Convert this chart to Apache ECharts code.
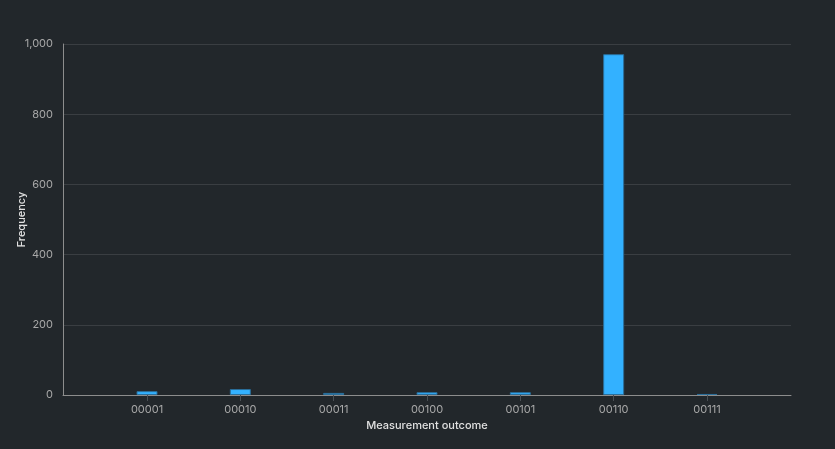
<!DOCTYPE html>
<html>
<head>
<meta charset="utf-8">
<script src="https://cdn.jsdelivr.net/npm/echarts@6/dist/echarts.min.js"></script>
<style>
  html, body { margin: 0; padding: 0; background: #22272b; }
  #chart { width: 835px; height: 449px; }
</style>
</head>
<body>
<div id="chart"></div>
<script>
// measurement outcomes and counts (1024 shots)
const outcomes = ['00001', '00010', '00011', '00100', '00101', '00110', '00111'];
const counts = [11, 17, 6, 8, 8, 971, 3];
const yTicks = [0, 200, 400, 600, 800, 1000];

const positions = outcomes.map((_, i) => i);

const chart = echarts.init(document.getElementById('chart'));
chart.setOption({
  backgroundColor: '#22272b',
  animation: false,
  grid: { left: 63, right: 44, top: 44, bottom: 54, outerBoundsMode: 'none', containLabel: false },
  xAxis: {
    type: 'value',
    min: -0.9,
    max: 6.9,
    name: 'Measurement outcome',
    nameLocation: 'middle',
    nameGap: 25,
    nameMoveOverlap: false,
    nameTextStyle: { color: '#e0e0e0', fontSize: 11, fontFamily: 'Inter', fontWeight: 500 },
    axisLine: { show: true, onZero: false, lineStyle: { color: '#8d8d8d', width: 1 } },
    axisTick: { show: true, customValues: positions, length: 6, lineStyle: { color: '#4a4f54' } },
    axisLabel: {
      customValues: positions,
      formatter: v => outcomes[Math.round(v)] || '',
      color: '#a8a8a8', fontSize: 11, fontFamily: 'Inter', margin: 9
    },
    splitLine: { show: false }
  },
  yAxis: {
    type: 'value',
    min: 0,
    max: 1000,
    interval: 200,
    name: 'Frequency',
    nameLocation: 'middle',
    nameGap: 36,
    nameMoveOverlap: false,
    nameTextStyle: { color: '#e0e0e0', fontSize: 11, fontFamily: 'Inter', fontWeight: 500 },
    axisLine: { show: true, onZero: false, lineStyle: { color: '#8d8d8d', width: 1 } },
    axisTick: { show: false },
    axisLabel: {
      customValues: yTicks,
      formatter: v => v.toLocaleString('en-US'),
      color: '#a8a8a8', fontSize: 11, fontFamily: 'Inter', margin: 10
    },
    splitLine: { lineStyle: { color: '#3a3e42', width: 1 } }
  },
  series: [{
    type: 'bar',
    barWidth: 21,
    data: counts.map((c, i) => [positions[i], c]),
    itemStyle: { color: '#33b1ff', borderColor: '#2a6e9a', borderWidth: 1 }
  }]
});
</script>
</body>
</html>
